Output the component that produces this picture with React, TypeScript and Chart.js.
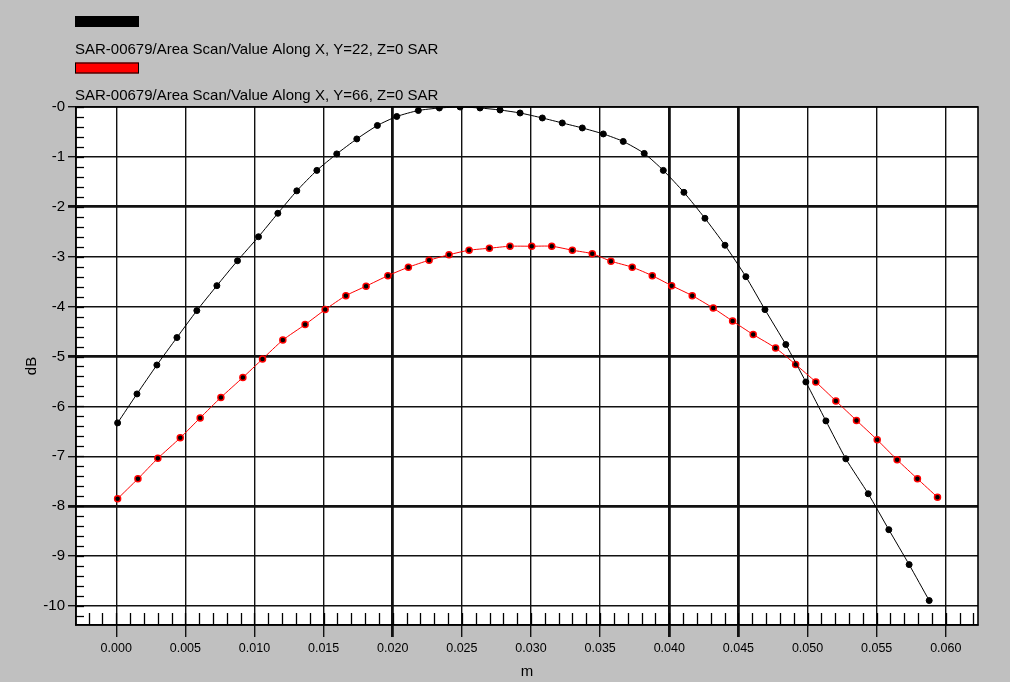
import React, { useEffect, useRef } from "react";
import { Chart, registerables } from "chart.js";

Chart.register(...registerables);

// ---- data ----
const SERIES_LABELS = [
  "SAR-00679/Area Scan/Value Along X, Y=22, Z=0 SAR",
  "SAR-00679/Area Scan/Value Along X, Y=66, Z=0 SAR",
];
const SERIES_COLORS = ["#000000", "#ff0000"];

const X_BLACK = [
  0.0001, 0.0015, 0.00294, 0.00439, 0.00583, 0.00728, 0.00877, 0.01029, 0.01169, 0.01306,
  0.01451, 0.01595, 0.0174, 0.01889, 0.02029, 0.02185, 0.02337, 0.02487, 0.02631, 0.02776,
  0.02921, 0.03082, 0.03226, 0.03371, 0.03523, 0.03667, 0.03819, 0.03957, 0.04106, 0.04258,
  0.04403, 0.04554, 0.04692, 0.04843, 0.04988, 0.05133, 0.05277, 0.05439, 0.05588, 0.05735,
  0.0588,
];
const DB_BLACK = [
  -6.33, -5.75, -5.17, -4.62, -4.08, -3.58, -3.08, -2.6, -2.13, -1.68,
  -1.27, -0.94, -0.64, -0.37, -0.19, -0.07, -0.02, 0.0, -0.02, -0.06,
  -0.12, -0.22, -0.32, -0.42, -0.54, -0.69, -0.93, -1.27, -1.71, -2.23,
  -2.77, -3.4, -4.06, -4.76, -5.51, -6.29, -7.05, -7.75, -8.47, -9.17,
  -9.89,
];

const X_RED = [
  0.0001, 0.00157, 0.00301, 0.00463, 0.00607, 0.00757, 0.00916, 0.01058, 0.01205, 0.01366,
  0.01511, 0.01661, 0.01807, 0.01965, 0.02113, 0.02263, 0.02407, 0.02552, 0.02699, 0.02848,
  0.03005, 0.0315, 0.03299, 0.03443, 0.03578, 0.03732, 0.03877, 0.04017, 0.04166, 0.04318,
  0.04458, 0.04607, 0.04769, 0.04914, 0.0506, 0.05205, 0.05354, 0.05504, 0.05648, 0.05795,
  0.0594,
];
const DB_RED = [
  -7.85, -7.45, -7.04, -6.63, -6.23, -5.82, -5.42, -5.05, -4.67, -4.36,
  -4.06, -3.78, -3.59, -3.38, -3.21, -3.07, -2.96, -2.87, -2.83, -2.79,
  -2.79, -2.79, -2.87, -2.94, -3.09, -3.21, -3.38, -3.58, -3.78, -4.03,
  -4.29, -4.56, -4.83, -5.16, -5.51, -5.89, -6.28, -6.67, -7.07, -7.45,
  -7.82,
];

const X_TICKS = [0, 0.005, 0.01, 0.015, 0.02, 0.025, 0.03, 0.035, 0.04, 0.045, 0.05, 0.055, 0.06];
const X_TICK_LABELS = ["0.000", "0.005", "0.010", "0.015", "0.020", "0.025", "0.030", "0.035", "0.040", "0.045", "0.050", "0.055", "0.060"];
const Y_TICKS = [0, -1, -2, -3, -4, -5, -6, -7, -8, -9, -10];
const Y_TICK_LABELS = ["-0", "-1", "-2", "-3", "-4", "-5", "-6", "-7", "-8", "-9", "-10"];
const X_THICK = [0.02, 0.04, 0.045];
const Y_THICK = [-2, -5, -8];
const X_RANGE = [-0.00291, 0.06233];
const Y_RANGE = [-10.38, 0];
const X_TITLE = "m";
const Y_TITLE = "dB";

const FONT = "'Liberation Sans', Arial, sans-serif";

const near = (a: number, b: number) => Math.abs(a - b) < 1e-9;
const isIn = (arr: number[], v: number) => arr.some((a) => near(a, v));

const framePlugin = {
  id: "frame",
  beforeDraw(chart: any) {
    const { ctx, chartArea: a, width, height } = chart;
    ctx.save();
    ctx.fillStyle = "#c0c0c0";
    ctx.fillRect(0, 0, width, height);
    ctx.fillStyle = "#ffffff";
    ctx.fillRect(a.left, a.top, a.right - a.left, a.bottom - a.top);
    ctx.restore();
  },
  beforeDatasetsDraw(chart: any) {
    const { ctx, chartArea: a, scales } = chart;
    const xs = scales.x;
    const ys = scales.y;
    ctx.save();
    ctx.strokeStyle = "#000";
    ctx.lineWidth = 1.3;
    // minor ticks on the left, inside
    for (let i = 0; ; i++) {
      const v = -i * 0.2;
      if (v < ys.min) break;
      const y = Math.round(ys.getPixelForValue(v)) + 0.5;
      ctx.beginPath();
      ctx.moveTo(a.left, y);
      ctx.lineTo(a.left + 8, y);
      ctx.stroke();
    }
    // minor ticks on the bottom, inside
    for (let k = -2; k <= 62; k++) {
      const v = k * 0.001;
      if (v < xs.min || v > xs.max) continue;
      const x = Math.round(xs.getPixelForValue(v)) + 0.5;
      ctx.beginPath();
      ctx.moveTo(x, a.bottom);
      ctx.lineTo(x, a.bottom - 12);
      ctx.stroke();
    }
    // frame
    ctx.lineWidth = 1.6;
    ctx.strokeRect(a.left, a.top, a.right - a.left, a.bottom - a.top);
    ctx.restore();
  },
  afterDraw(chart: any) {
    const { ctx } = chart;
    const ds = chart.data.datasets;
    ctx.save();
    ctx.font = `15px ${FONT}`;
    ctx.textBaseline = "alphabetic";
    ctx.textAlign = "left";
    ds.forEach((d: any, i: number) => {
      const top = 16 + i * 46.5;
      ctx.fillStyle = d.borderColor;
      ctx.fillRect(75, top, 64, 11);
      ctx.strokeStyle = "#000";
      ctx.lineWidth = 1;
      ctx.strokeRect(75.5, top + 0.5, 63, 10);
      ctx.fillStyle = "#000";
      ctx.fillText(d.label, 75, top + 37.5);
    });
    ctx.restore();
  },
};

export default function App() {
  const ref = useRef<HTMLCanvasElement | null>(null);

  useEffect(() => {
    if (!ref.current) return;
    const gridWidth = (thick: number[]) => (c: any) =>
      c.tick && isIn(thick, c.tick.value) ? 2.8 : 1.4;

    const chart = new Chart(ref.current, {
      type: "line",
      data: {
        datasets: [
          {
            label: SERIES_LABELS[0],
            data: X_BLACK.map((x, i) => ({ x, y: DB_BLACK[i] })),
            borderColor: SERIES_COLORS[0],
            backgroundColor: SERIES_COLORS[0],
            borderWidth: 1,
            pointRadius: 3,
            pointBackgroundColor: "#000",
            pointBorderColor: "#000",
            pointBorderWidth: 1,
            tension: 0.2,
          },
          {
            label: SERIES_LABELS[1],
            data: X_RED.map((x, i) => ({ x, y: DB_RED[i] })),
            borderColor: SERIES_COLORS[1],
            backgroundColor: SERIES_COLORS[1],
            borderWidth: 1,
            pointRadius: 3,
            pointBackgroundColor: "#000",
            pointBorderColor: SERIES_COLORS[1],
            pointBorderWidth: 1.5,
            tension: 0.2,
          },
        ],
      },
      options: {
        animation: false,
        responsive: false,
        devicePixelRatio: 1,
        events: [],
        layout: { padding: { left: 0, top: 107, right: 32, bottom: 0 } },
        plugins: {
          legend: { display: false },
          tooltip: { enabled: false },
        },
        scales: {
          x: {
            type: "linear",
            min: X_RANGE[0],
            max: X_RANGE[1],
            afterBuildTicks: (s: any) => {
              s.ticks = X_TICKS.map((v) => ({ value: v }));
            },
            afterFit: (s: any) => {
              s.height = 57;
            },
            ticks: {
              autoSkip: false,
              maxRotation: 0,
              minRotation: 0,
              padding: 4,
              color: "#000",
              font: { family: FONT, size: 12.5 },
              callback: (v: any) => {
                const i = X_TICKS.findIndex((t) => near(t, Number(v)));
                return i >= 0 ? X_TICK_LABELS[i] : "";
              },
            },
            grid: {
              color: "#111",
              lineWidth: gridWidth(X_THICK),
              drawTicks: true,
              tickLength: 12,
            },
            border: { display: true, color: "#000", width: 1.6 },
            title: {
              display: true,
              text: X_TITLE,
              color: "#000",
              font: { family: FONT, size: 15 },
              padding: { top: 0, bottom: 1 },
            },
          },
          y: {
            type: "linear",
            min: Y_RANGE[0],
            max: Y_RANGE[1],
            afterBuildTicks: (s: any) => {
              s.ticks = Y_TICKS.map((v) => ({ value: v }));
            },
            afterFit: (s: any) => {
              s.width = 76;
            },
            ticks: {
              autoSkip: false,
              padding: 3,
              color: "#000",
              font: { family: FONT, size: 15 },
              callback: (v: any) => {
                const i = Y_TICKS.findIndex((t) => near(t, Number(v)));
                return i >= 0 ? Y_TICK_LABELS[i] : "";
              },
            },
            grid: {
              color: "#111",
              lineWidth: gridWidth(Y_THICK),
              drawTicks: true,
              tickLength: 8,
            },
            border: { display: true, color: "#000", width: 1.6 },
            title: {
              display: true,
              text: Y_TITLE,
              color: "#000",
              font: { family: FONT, size: 15 },
              padding: { top: 23, bottom: 0 },
            },
          },
        },
      },
      plugins: [framePlugin],
    } as any);

    return () => chart.destroy();
  }, []);

  return (
    <div style={{ position: "fixed", left: 0, top: 0, width: 1010, height: 682, background: "#c0c0c0" }}>
      <canvas ref={ref} width={1010} height={682} style={{ width: 1010, height: 682, display: "block" }} />
    </div>
  );
}
